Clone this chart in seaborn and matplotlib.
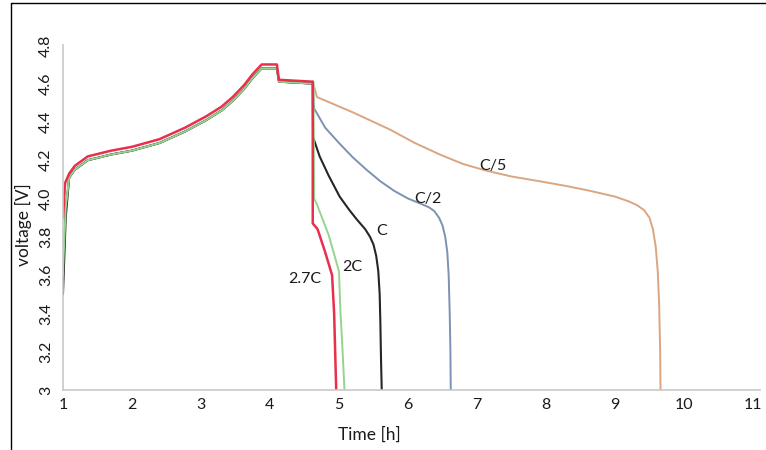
import matplotlib
matplotlib.use("Agg")
import matplotlib.pyplot as plt
import seaborn as sns
import pandas as pd
from matplotlib.lines import Line2D

# ---- data -------------------------------------------------------------
rates = ["C/5", "C/2", "C", "2C", "2.7C"]
colors = ["#dba582", "#7d91b2", "#262626", "#95d48e", "#e8304c"]

# common charge part (black / green / blue / orange lie underneath)
charge_t = [1.09, 1.17, 1.36, 1.7, 2.0, 2.4, 2.77, 3.08, 3.3, 3.46, 3.62, 3.75, 3.88, 4.10, 4.13, 4.62]
charge_v = [4.11, 4.15, 4.20, 4.23, 4.25, 4.29, 4.35, 4.41, 4.46, 4.51, 4.57, 4.63, 4.68, 4.68, 4.61, 4.60]
charge_v_red = [4.13, 4.17, 4.22, 4.25, 4.27, 4.31, 4.37, 4.43, 4.48, 4.53, 4.59, 4.65, 4.70, 4.70, 4.62, 4.61]

# start of each curve (t = 1 h)
start_t = {"C/5": [1.0, 1.04], "C/2": [1.0, 1.04], "C": [1.0, 1.01, 1.04],
           "2C": [1.0, 1.01, 1.04], "2.7C": [1.0, 1.01, 1.03]}
start_v = {"C/5": [3.60, 3.95], "C/2": [3.60, 3.95], "C": [3.50, 3.60, 3.90],
           "2C": [3.60, 3.70, 3.95], "2.7C": [3.90, 3.95, 4.08]}

# discharge parts
dis_t = {
    "C/5": [4.62, 4.68, 5.20, 5.74, 6.10, 6.46, 6.80, 7.14, 7.50, 7.91, 8.30, 8.64, 9.00,
            9.20, 9.32, 9.42, 9.50, 9.55, 9.59, 9.62, 9.64, 9.655, 9.66],
    "C/2": [4.62, 4.64, 4.80, 5.00, 5.20, 5.40, 5.60, 5.80, 6.00, 6.17, 6.30, 6.38, 6.45,
            6.50, 6.54, 6.57, 6.59, 6.605, 6.615, 6.62],
    "C":   [4.62, 4.625, 4.72, 4.85, 5.01, 5.15, 5.26, 5.38, 5.45, 5.50, 5.54, 5.57, 5.59,
            5.60, 5.61, 5.62],
    "2C":  [4.63, 4.64, 4.68, 4.85, 5.00, 5.02, 5.05, 5.08],
    "2.7C": [4.62, 4.62, 4.69, 4.80, 4.90, 4.93, 4.96],
}
dis_v = {
    "C/5": [4.61, 4.53, 4.45, 4.36, 4.29, 4.23, 4.18, 4.145, 4.115, 4.09, 4.065, 4.04, 4.01,
            3.985, 3.965, 3.94, 3.90, 3.84, 3.75, 3.62, 3.45, 3.20, 3.00],
    "C/2": [4.61, 4.47, 4.37, 4.29, 4.215, 4.15, 4.09, 4.04, 4.00, 3.975, 3.955, 3.935, 3.90,
            3.86, 3.80, 3.72, 3.60, 3.40, 3.20, 3.00],
    "C":   [4.61, 4.32, 4.22, 4.12, 4.01, 3.94, 3.89, 3.84, 3.80, 3.76, 3.70, 3.62, 3.50,
            3.35, 3.15, 3.00],
    "2C":  [4.61, 4.00, 3.97, 3.81, 3.62, 3.42, 3.22, 3.00],
    "2.7C": [4.61, 3.87, 3.84, 3.72, 3.60, 3.40, 3.00],
}

label_t = [7.23, 6.29, 5.62, 5.19, 4.51]
label_v = [4.17, 4.00, 3.83, 3.64, 3.58]

yticks = [3.0, 3.2, 3.4, 3.6, 3.8, 4.0, 4.2, 4.4, 4.6, 4.8]
ytick_labels = ["3", "3.2", "3.4", "3.6", "3.8", "4.0", "4.2", "4.4", "4.6", "4.8"]
xticks = [1, 2, 3, 4, 5, 6, 7, 8, 9, 10, 11]

# ---- build table ---------------------------------------------------------
rows = []
for r in rates:
    cv = charge_v_red if r == "2.7C" else charge_v
    ts = start_t[r] + charge_t + dis_t[r]
    vs = start_v[r] + cv + dis_v[r]
    for i, (t, v) in enumerate(zip(ts, vs)):
        rows.append({"rate": r, "order": i, "t": t, "v": v})
df = pd.DataFrame(rows)

# ---- plot ----------------------------------------------------------------
sns.set_style("white")
plt.rcParams["font.family"] = ["Lato", "DejaVu Sans"]

fig = plt.figure(figsize=(7.66, 4.5), dpi=100)
ax = fig.add_axes([0.0822, 0.1333, 0.9098, 0.7660])

widths = {"C/5": 1.4, "C/2": 1.4, "C": 1.5, "2C": 1.4, "2.7C": 1.8}
for r, c in zip(rates, colors):
    sub = df[df["rate"] == r]
    sns.lineplot(data=sub, x="t", y="v", sort=False, estimator=None,
                 color=c, linewidth=widths[r], ax=ax)

for r, t, v in zip(rates, label_t, label_v):
    ax.text(t, v, r, fontsize=11.5, color="#1a1a1a", ha="center", va="center")

ax.set_xlim(1, 11.1)
ax.set_ylim(3.0, 4.8)
ax.set_xticks(xticks)
ax.set_xticklabels([str(x) for x in xticks], fontsize=11.5, color="#1a1a1a")
ax.set_yticks(yticks)
ax.set_yticklabels(ytick_labels, fontsize=11.5, color="#1a1a1a", rotation=90, va="center")
ax.tick_params(axis="both", length=0)
ax.tick_params(axis="x", pad=6)
ax.tick_params(axis="y", pad=7)

ax.set_xlabel("Time [h]", fontsize=12.5, color="#1a1a1a")
ax.set_ylabel("voltage [V]", fontsize=12.5, color="#1a1a1a")
ax.xaxis.set_label_coords(0.44, -0.105)
ax.yaxis.set_label_coords(-0.044, 0.48)

for s in ["top", "right"]:
    ax.spines[s].set_visible(False)
for s in ["left", "bottom"]:
    ax.spines[s].set_color("#c8c8c8")
    ax.spines[s].set_linewidth(1.2)
ax.grid(False)

# outer frame lines (left and top)
fig.add_artist(Line2D([11 / 766, 11 / 766], [0, 1 - 3 / 450], transform=fig.transFigure,
                      color="black", linewidth=1.0))
fig.add_artist(Line2D([11 / 766, 1], [1 - 3 / 450, 1 - 3 / 450], transform=fig.transFigure,
                      color="black", linewidth=1.0))

fig.savefig("out.png", dpi=100)
